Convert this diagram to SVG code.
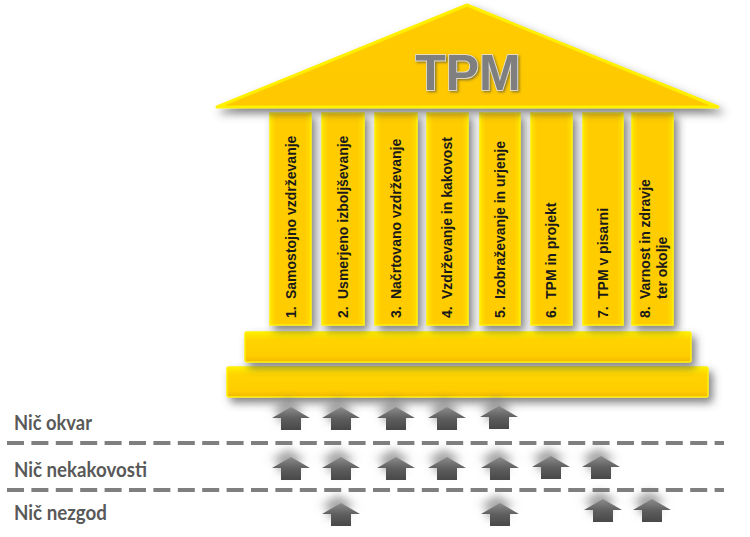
<svg xmlns="http://www.w3.org/2000/svg" width="750" height="537" viewBox="0 0 750 537">
<style>
.col{fill:url(#colG);stroke:#FFEF00;stroke-width:1.5;filter:url(#sh)}
.ct{font-family:"Liberation Sans",Arial,sans-serif;font-weight:bold;font-size:14px;fill:#1a1a1a}
.lbl{font-family:Lato,"Liberation Sans",sans-serif;font-weight:bold;font-size:21px;fill:#595959}
.dash{stroke:#7f7f7f;stroke-width:4;stroke-dasharray:17 7.4;fill:none}
.arr{fill:url(#arrG);filter:url(#glow)}
</style>
<defs>
<linearGradient id="colG" x1="0" y1="0" x2="1" y2="0">
<stop offset="0" stop-color="#FFE500"/><stop offset="0.15" stop-color="#FFCC00"/><stop offset="0.85" stop-color="#FFCC00"/><stop offset="1" stop-color="#FFE000"/>
</linearGradient>
<linearGradient id="slabG" x1="0" y1="0" x2="0" y2="1">
<stop offset="0" stop-color="#FFF000"/><stop offset="0.25" stop-color="#FFD400"/><stop offset="0.8" stop-color="#FFCC00"/><stop offset="1" stop-color="#F0B800"/>
</linearGradient>
<linearGradient id="roofG" x1="0" y1="0" x2="0" y2="1">
<stop offset="0" stop-color="#FFCC00"/><stop offset="1" stop-color="#FFC800"/>
</linearGradient>
<linearGradient id="arrG" x1="0" y1="0" x2="0" y2="1">
<stop offset="0" stop-color="#8c8c8c"/><stop offset="0.5" stop-color="#5e5e5e"/><stop offset="1" stop-color="#484848"/>
</linearGradient>
<filter id="sh" x="-20%" y="-20%" width="150%" height="170%">
<feDropShadow dx="4" dy="5" stdDeviation="4" flood-color="#4d4d4d" flood-opacity="0.7"/>
</filter>
<filter id="glow" x="-60%" y="-80%" width="220%" height="220%">
<feGaussianBlur in="SourceAlpha" stdDeviation="4.5"/>
<feOffset dx="-3" dy="-8" result="b"/>
<feFlood flood-color="#6e6e6e" flood-opacity="0.6"/>
<feComposite in2="b" operator="in" result="s"/>
<feMerge><feMergeNode in="s"/><feMergeNode in="SourceGraphic"/></feMerge>
</filter>
<filter id="tsh" x="-10%" y="-10%" width="130%" height="130%">
<feDropShadow dx="1.5" dy="1.5" stdDeviation="1" flood-color="#444" flood-opacity="0.6"/>
</filter>
<path id="arrow" d="M0,0 L19,11 L10,11 L10,23 L-10,23 L-10,11 L-19,11 Z"/>
</defs>
<rect width="750" height="537" fill="#ffffff"/>

<g id="base-lower"><rect x="227" y="367" width="481" height="30" rx="2" fill="url(#slabG)" stroke="#FFEF00" stroke-width="1.5" filter="url(#sh)"/></g>
<g id="base-upper"><rect x="245" y="332" width="446" height="30" rx="2" fill="url(#slabG)" stroke="#FFEF00" stroke-width="1.5" filter="url(#sh)"/></g>

<g id="pillar1"><rect class="col" x="270" y="113" width="41" height="212"/>
<text class="ct" transform="translate(296,318) rotate(-90)">1.<tspan x="19">Samostojno vzdrževanje</tspan></text></g>
<g id="pillar2"><rect class="col" x="322" y="113" width="42" height="212"/>
<text class="ct" transform="translate(348,318) rotate(-90)">2.<tspan x="19">Usmerjeno izboljševanje</tspan></text></g>
<g id="pillar3"><rect class="col" x="375" y="113" width="42" height="212"/>
<text class="ct" transform="translate(401,318) rotate(-90)">3.<tspan x="19">Načrtovano vzdrževanje</tspan></text></g>
<g id="pillar4"><rect class="col" x="427" y="113" width="41" height="212"/>
<text class="ct" transform="translate(452,318) rotate(-90)">4.<tspan x="19">Vzdrževanje in kakovost</tspan></text></g>
<g id="pillar5"><rect class="col" x="480" y="113" width="40" height="212"/>
<text class="ct" transform="translate(505,318) rotate(-90)">5.<tspan x="19">Izobraževanje in urjenje</tspan></text></g>
<g id="pillar6"><rect class="col" x="531" y="113" width="41" height="212"/>
<text class="ct" transform="translate(556,318) rotate(-90)">6.<tspan x="19">TPM in projekt</tspan></text></g>
<g id="pillar7"><rect class="col" x="583" y="113" width="40" height="212"/>
<text class="ct" transform="translate(608,318) rotate(-90)">7.<tspan x="19">TPM v pisarni</tspan></text></g>
<g id="pillar8"><rect class="col" x="632" y="113" width="41" height="212"/>
<text class="ct" transform="translate(650,318) rotate(-90)">8.<tspan x="19">Varnost in zdravje</tspan><tspan x="19" dy="17">ter okolje</tspan></text></g>

<g id="roof">
<polygon points="467,5 718,107 217,107" fill="url(#roofG)" stroke="#FFF000" stroke-width="3" stroke-linejoin="round" filter="url(#sh)"/>
<text x="468" y="90" text-anchor="middle" font-family="'Liberation Sans',Arial,sans-serif" font-weight="bold" font-size="50" fill="#7f7f7f" stroke="#e6e6e6" stroke-width="1.5" paint-order="stroke" filter="url(#tsh)">TPM</text>
</g>

<g id="separators">
<line class="dash" x1="7" y1="443" x2="724" y2="443"/>
<line class="dash" x1="7" y1="490" x2="724" y2="490"/>
</g>

<g id="labels">
<text class="lbl" x="14" y="430" textLength="78" lengthAdjust="spacingAndGlyphs">Nič okvar</text>
<text class="lbl" x="14" y="477" textLength="133" lengthAdjust="spacingAndGlyphs">Nič nekakovosti</text>
<text class="lbl" x="14" y="520" textLength="93" lengthAdjust="spacingAndGlyphs">Nič nezgod</text>
</g>

<g id="connectors">
<use href="#arrow" class="arr" x="291" y="407"/>
<use href="#arrow" class="arr" x="341" y="407"/>
<use href="#arrow" class="arr" x="396" y="407"/>
<use href="#arrow" class="arr" x="447" y="407"/>
<use href="#arrow" class="arr" x="499" y="406"/>
<use href="#arrow" class="arr" x="291" y="457"/>
<use href="#arrow" class="arr" x="341" y="457"/>
<use href="#arrow" class="arr" x="396" y="457"/>
<use href="#arrow" class="arr" x="447" y="457"/>
<use href="#arrow" class="arr" x="500" y="457"/>
<use href="#arrow" class="arr" x="551" y="456"/>
<use href="#arrow" class="arr" x="601" y="456"/>
<use href="#arrow" class="arr" x="341" y="503"/>
<use href="#arrow" class="arr" x="500" y="503"/>
<use href="#arrow" class="arr" x="603" y="499"/>
<use href="#arrow" class="arr" x="652" y="499"/>
</g>
</svg>
